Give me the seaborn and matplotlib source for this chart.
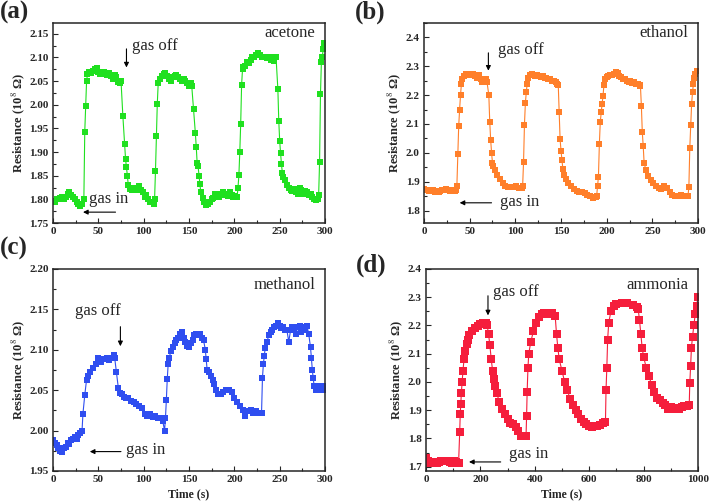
import numpy as np
import matplotlib
matplotlib.use("Agg")
import matplotlib.pyplot as plt
import seaborn as sns
from matplotlib.ticker import MultipleLocator, AutoMinorLocator, FormatStrFormatter

# ---- data ----
t_ace = [0, 2, 4, 6, 8, 10, 12, 14, 16, 18, 20, 22, 24, 26, 28, 30, 32, 34,
         35, 36, 37, 38, 40, 42, 44, 46, 48, 50, 52, 54, 56, 58, 60, 62, 64, 66, 68, 70, 72, 74, 75,
         77, 79, 80, 81, 82, 83, 85, 87, 89, 91, 93, 95, 97, 99, 101, 103, 105, 107, 109, 111, 112,
         113, 114, 115, 116, 118, 120, 122, 124, 126, 128, 130, 132, 134, 136, 138, 140, 142, 144, 146, 148, 150, 152, 153,
         155, 157, 158, 159, 160, 161, 162, 163, 165, 167, 169, 171, 173, 175, 177, 179, 181, 183, 185, 187, 189, 191, 193, 195, 197, 199, 201, 203,
         204, 205, 206, 207, 208, 209, 210, 212, 214, 216, 218, 220, 222, 224, 226, 228, 230, 232, 234, 236, 238, 240, 242, 244, 246,
         248, 249, 250, 251, 252, 253, 254, 256, 258, 260, 262, 264, 266, 268, 270, 272, 274, 276, 278, 280, 282, 284, 286, 288, 290, 292,
         293, 294, 295, 296, 297, 298, 299]
r_ace = [1.797, 1.795, 1.80, 1.80, 1.803, 1.805, 1.80, 1.805, 1.812, 1.815, 1.81, 1.805, 1.80, 1.795, 1.79, 1.785, 1.79, 1.80,
         1.943, 1.997, 2.05, 2.065, 2.07, 2.068, 2.072, 2.075, 2.078, 2.07, 2.065, 2.068, 2.07, 2.065, 2.062, 2.068, 2.06, 2.055, 2.062, 2.058, 2.048, 2.045, 2.05,
         1.977, 1.917, 1.885, 1.868, 1.85, 1.83, 1.822, 1.82, 1.825, 1.82, 1.825, 1.828, 1.82, 1.815, 1.805, 1.81, 1.80, 1.795, 1.795, 1.79, 1.80,
         1.86, 1.935, 2.002, 2.045, 2.055, 2.06, 2.065, 2.068, 2.06, 2.055, 2.05, 2.058, 2.06, 2.062, 2.058, 2.055, 2.05, 2.055, 2.05, 2.045, 2.04, 2.045, 2.04,
         1.99, 1.94, 1.91, 1.876, 1.87, 1.85, 1.832, 1.815, 1.803, 1.795, 1.788, 1.79, 1.795, 1.80, 1.803, 1.812, 1.812, 1.805, 1.81, 1.815, 1.81, 1.812, 1.808, 1.815, 1.81, 1.805, 1.808, 1.805,
         1.824, 1.851, 1.90, 1.96, 2.042, 2.075, 2.08, 2.082, 2.09, 2.088, 2.095, 2.10, 2.10, 2.105, 2.11, 2.105, 2.10, 2.102, 2.10, 2.098, 2.10, 2.095, 2.10, 2.092, 2.10,
         2.033, 1.966, 1.924, 1.897, 1.874, 1.855, 1.848, 1.84, 1.83, 1.825, 1.82, 1.818, 1.822, 1.815, 1.812, 1.825, 1.82, 1.812, 1.818, 1.815, 1.81, 1.812, 1.805, 1.80, 1.798, 1.80,
         1.81, 1.878, 2.022, 2.09, 2.10, 2.118, 2.13]

t_eth = [0, 2, 4, 6, 8, 10, 12, 14, 16, 18, 20, 22, 24, 26, 28, 30, 32, 34, 35,
         36, 37, 38, 39, 40, 41, 42, 44, 46, 48, 50, 52, 54, 56, 58, 60, 62, 64, 66, 68, 69,
         71, 72, 73, 74, 75, 76, 78, 80, 83, 86, 89, 92, 95, 98, 101, 104, 107, 108,
         109, 110, 111, 112, 113, 114, 116, 118, 120, 122, 124, 126, 128, 130, 132, 134, 136, 138, 140, 142, 144, 146, 147,
         148, 149, 150, 151, 152, 153, 155, 158, 161, 164, 167, 170, 173, 176, 179, 182, 185, 188, 189,
         190, 191, 192, 193, 194, 195, 196, 197, 198, 200, 202, 204, 206, 208, 210, 212, 214, 216, 218, 220, 222, 224, 226, 228, 230, 232, 234, 236, 237,
         238, 239, 240, 241, 243, 245, 248, 251, 254, 257, 260, 263, 266, 269, 272, 275, 278, 281, 284, 287, 289,
         290, 291, 292, 293, 294, 295, 296, 297, 299]
r_eth = [1.875, 1.87, 1.87, 1.868, 1.872, 1.87, 1.865, 1.868, 1.865, 1.868, 1.87, 1.872, 1.875, 1.87, 1.868, 1.872, 1.87, 1.868, 1.87,
         1.885, 1.995, 2.092, 2.15, 2.20, 2.24, 2.255, 2.265, 2.272, 2.27, 2.272, 2.27, 2.272, 2.265, 2.26, 2.268, 2.255, 2.245, 2.245, 2.255, 2.245,
         2.20, 2.107, 2.045, 2.0, 1.965, 1.955, 1.94, 1.925, 1.91, 1.895, 1.885, 1.882, 1.883, 1.882, 1.885, 1.88, 1.878, 1.885,
         1.968, 2.098, 2.172, 2.21, 2.24, 2.26, 2.27, 2.272, 2.268, 2.265, 2.268, 2.265, 2.262, 2.265, 2.26, 2.258, 2.255, 2.255, 2.25, 2.248, 2.245, 2.24, 2.235,
         2.142, 2.048, 2.008, 1.975, 1.945, 1.925, 1.91, 1.895, 1.885, 1.875, 1.868, 1.865, 1.865, 1.862, 1.855, 1.85, 1.845, 1.848, 1.85,
         1.885, 1.918, 2.03, 2.107, 2.14, 2.17, 2.197, 2.235, 2.255, 2.262, 2.265, 2.27, 2.268, 2.272, 2.28, 2.275, 2.265, 2.262, 2.255, 2.255, 2.25, 2.245, 2.248, 2.242, 2.245, 2.24, 2.238, 2.235, 2.23,
         2.162, 2.072, 2.024, 1.965, 1.94, 1.92, 1.905, 1.895, 1.885, 1.878, 1.875, 1.885, 1.88, 1.865, 1.855, 1.85, 1.852, 1.855, 1.852, 1.85, 1.85,
         1.882, 2.017, 2.097, 2.17, 2.21, 2.24, 2.26, 2.272, 2.285]

t_met = [0, 2, 4, 6, 8, 10, 12, 14, 16, 18, 20, 22, 24, 26, 28, 30, 32,
         33, 35, 37, 39, 41, 44, 47, 50, 53, 56, 59, 62, 65, 67, 68,
         70, 72, 74, 76, 78, 80, 83, 86, 89, 92, 95, 98, 101, 104, 107, 110, 113, 116, 119, 121, 123, 124,
         125, 126, 127, 128, 130, 132, 134, 136, 138, 140, 142, 144, 146, 148, 150, 152, 154, 156, 158, 160, 162, 164, 166,
         168, 169, 170, 172, 174, 176, 178, 180, 182, 185, 188, 191, 194, 197, 200, 203, 206, 209, 212, 215, 218, 221, 224, 227, 230,
         231, 232, 233, 234, 236, 238, 240, 242, 244, 246, 248, 250, 252, 254, 256, 258, 260, 262, 264, 266, 268, 270, 272, 274, 276, 278, 280, 282,
         284, 285, 286, 287, 288, 290, 292, 294, 296, 298, 299]
r_met = [1.988, 1.985, 1.982, 1.978, 1.975, 1.974, 1.978, 1.98, 1.985, 1.983, 1.988, 1.99, 1.992, 1.99, 1.995, 1.997, 2.0,
         2.021, 2.044, 2.063, 2.068, 2.073, 2.078, 2.082, 2.09, 2.085, 2.088, 2.09, 2.087, 2.09, 2.094, 2.09,
         2.072, 2.053, 2.047, 2.045, 2.042, 2.04, 2.04, 2.037, 2.035, 2.033, 2.03, 2.028, 2.02, 2.018, 2.02, 2.017, 2.018, 2.015, 2.016, 2.012, 2.0, 2.015,
         2.038, 2.064, 2.082, 2.09, 2.098, 2.104, 2.108, 2.112, 2.115, 2.12, 2.122, 2.115, 2.11, 2.105, 2.103, 2.108, 2.112, 2.118, 2.12, 2.118, 2.12, 2.115, 2.112,
         2.1, 2.088, 2.075, 2.072, 2.068, 2.063, 2.058, 2.05, 2.045, 2.045, 2.048, 2.05, 2.05, 2.048, 2.04, 2.035, 2.03, 2.025, 2.018, 2.024, 2.025, 2.022, 2.024, 2.022, 2.022,
         2.065, 2.082, 2.092, 2.102, 2.11, 2.118, 2.122, 2.125, 2.128, 2.13, 2.133, 2.13, 2.127, 2.128, 2.125, 2.124, 2.11, 2.124, 2.128, 2.126, 2.12, 2.128, 2.13, 2.122, 2.128, 2.125, 2.13, 2.12,
         2.103, 2.09, 2.075, 2.065, 2.055, 2.05, 2.055, 2.05, 2.052, 2.05, 2.055]

t_amm = [0, 8, 16, 24, 32, 40, 48, 56, 64, 72, 80, 88, 96, 104, 112, 120,
         124, 126, 128, 130, 133, 136, 140, 145, 150, 155, 160, 170, 180, 190, 200, 210, 220, 225,
         230, 235, 240, 245, 250, 255, 260, 270, 280, 290, 300, 310, 320, 330, 340, 350, 360, 368,
         370, 372, 375, 378, 385, 395, 405, 415, 425, 435, 445, 455, 465, 475,
         480, 485, 490, 500, 510, 520, 530, 540, 550, 560, 570, 580, 590, 600, 610, 620, 630, 640, 650, 660,
         662, 665, 668, 672, 680, 690, 700, 720, 740, 760, 775, 780,
         785, 790, 795, 800, 810, 820, 830, 840, 850, 860, 870, 880, 890, 900, 910, 920, 930, 940, 950, 960, 968,
         970, 973, 976, 980, 985, 990, 995, 1000]
r_amm = [1.73, 1.72, 1.715, 1.715, 1.718, 1.715, 1.718, 1.72, 1.72, 1.722, 1.72, 1.718, 1.715, 1.72, 1.718, 1.715,
         1.822, 1.885, 1.922, 1.96, 2.0, 2.04, 2.08, 2.11, 2.135, 2.15, 2.165, 2.18, 2.19, 2.198, 2.205, 2.21, 2.21, 2.20,
         2.17, 2.13, 2.08, 2.04, 2.01, 1.985, 1.96, 1.93, 1.905, 1.885, 1.87, 1.855, 1.85, 1.84, 1.825, 1.81, 1.808, 1.81,
         1.88, 1.965, 2.05, 2.10, 2.14, 2.18, 2.21, 2.23, 2.24, 2.245, 2.245, 2.24, 2.245, 2.235,
         2.17, 2.12, 2.08, 2.04, 2.0, 1.97, 1.94, 1.92, 1.90, 1.885, 1.87, 1.86, 1.852, 1.845, 1.84, 1.843, 1.845, 1.848, 1.855, 1.86,
         1.97, 2.05, 2.15, 2.21, 2.25, 2.27, 2.277, 2.28, 2.28, 2.272, 2.265, 2.26,
         2.22, 2.17, 2.12, 2.09, 2.05, 2.02, 1.99, 1.965, 1.945, 1.935, 1.925, 1.92, 1.905, 1.91, 1.905, 1.908, 1.905, 1.91, 1.915, 1.915, 1.92,
         1.995, 2.055, 2.12, 2.16, 2.20, 2.24, 2.27, 2.30]

gases = ["acetone", "ethanol", "methanol", "ammonia"]
panel_tags = ["(a)", "(b)", "(c)", "(d)"]
colors = ["#1fe01f", "#ff7f2a", "#2f4ef0", "#f51e3c"]

sns.set_style("ticks")
plt.rcParams['font.family'] = ['Liberation Serif', 'DejaVu Serif']
plt.rcParams['mathtext.fontset'] = 'stix'

fig = plt.figure(figsize=(7.09, 5.04), dpi=100)
ax_a = fig.add_axes([0.0748, 0.5575, 0.3836, 0.397])
ax_b = fig.add_axes([0.598, 0.5575, 0.3865, 0.397])
ax_c = fig.add_axes([0.0748, 0.0655, 0.3836, 0.4008])
ax_d = fig.add_axes([0.6008, 0.0655, 0.3836, 0.4008])
axes = [ax_a, ax_b, ax_c, ax_d]

series = [(t_ace, r_ace), (t_eth, r_eth), (t_met, r_met), (t_amm, r_amm)]
ylims = [(1.75, 2.173), (1.757, 2.45), (1.95, 2.20), (1.685, 2.40)]
ysteps = [0.05, 0.1, 0.05, 0.1]
yfmt = ['%.2f', '%.1f', '%.2f', '%.1f']
xlims = [(0, 300), (0, 300), (0, 300), (0, 1000)]
xsteps = [50, 50, 50, 200]
msizes = [4.4, 4.4, 4.4, 5.2]

for i, ax in enumerate(axes):
    t, r = series[i]
    sns.lineplot(x=t, y=r, ax=ax, color=colors[i], marker='s', markersize=msizes[i],
                 markeredgewidth=0, linewidth=0.8, errorbar=None)
    ax.set_xlim(*xlims[i])
    ax.set_ylim(*ylims[i])
    ax.xaxis.set_major_locator(MultipleLocator(xsteps[i]))
    ax.yaxis.set_major_locator(MultipleLocator(ysteps[i]))
    ax.yaxis.set_major_formatter(FormatStrFormatter(yfmt[i]))
    ax.xaxis.set_minor_locator(AutoMinorLocator(2))
    ax.yaxis.set_minor_locator(AutoMinorLocator(2))
    ax.tick_params(which='both', direction='in', top=False, right=False,
                   labelsize=8, width=0.8, pad=3)
    ax.tick_params(which='major', length=3.5)
    ax.tick_params(which='minor', length=2)
    for sp in ax.spines.values():
        sp.set_visible(True)
        sp.set_linewidth(1.1)
    ax.set_ylabel('Resistance (10$^{8}$ Ω)', fontsize=9, fontweight='bold', labelpad=2)
    ax.text(0.965, 0.95 if i < 2 else 0.92, gases[i], transform=ax.transAxes,
            ha='right', va='center', fontsize=12)

for ax in axes:
    for lab in ax.get_xticklabels() + ax.get_yticklabels():
        lab.set_fontweight('bold')

for ax in [ax_c, ax_d]:
    ax.set_xlabel('Time (s)', fontsize=8.5, fontweight='bold', labelpad=3)
for ax in [ax_a, ax_b]:
    ax.set_xlabel('')

# gas off / gas in annotations
arrow = dict(arrowstyle='-|>', color='black', lw=0.8, mutation_scale=7)
off_pos = [(81, 2.124, 2.073, 87, 2.124), (70.5, 2.356, 2.275, 81, 2.356),
           (74.3, 2.132, 2.101, 24, 2.1475), (228, 2.315, 2.226, 245, 2.317)]
in_pos = [(72, 30, 1.773, 40, 1.80), (77, 36, 1.827, 83, 1.829),
          (78, 37.5, 1.974, 80, 1.976), (285, 148, 1.717, 304, 1.744)]
for i, ax in enumerate(axes):
    xa, y0, y1, xt, yt = off_pos[i]
    ax.annotate('', xy=(xa, y1), xytext=(xa, y0), arrowprops=arrow)
    ax.text(xt, yt, 'gas off', fontsize=12, ha='left', va='center')
    x0, x1, ya, xt, yt = in_pos[i]
    ax.annotate('', xy=(x1, ya), xytext=(x0, ya), arrowprops=arrow)
    ax.text(xt, yt, 'gas in', fontsize=12, ha='left', va='center')

tag_xy = [(0.0, 0.998), (0.5, 0.998), (0.0, 0.53), (0.502, 0.496)]
for tag, (x, y) in zip(panel_tags, tag_xy):
    fig.text(x, y, tag, fontsize=18, fontweight='bold', ha='left', va='top')

fig.savefig('out.png', dpi=100)
